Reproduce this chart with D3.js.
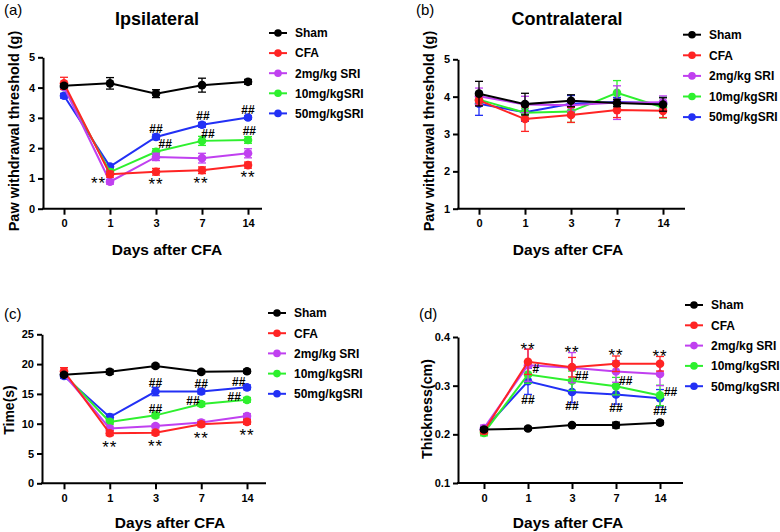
<!DOCTYPE html>
<html><head><meta charset="utf-8">
<script src="https://cdn.jsdelivr.net/npm/d3@7"></script>
<style>
html,body{margin:0;padding:0;background:#fff;}
svg text{font-family:Arial,"Liberation Sans",Helvetica,sans-serif;}
</style></head>
<body>
<svg id="chart" width="780" height="532"></svg>
<script>
// ---------- data ----------
const days = ["0", "1", "3", "7", "14"];
const groups = ["Sham", "CFA", "2mg/kg SRI", "10mg/kgSRI", "50mg/kgSRI"];
const groupColors = ["#000000", "#ff2424", "#c040f0", "#2ef02e", "#2230f5"];

// (a) Ipsilateral paw withdrawal threshold (g)
const ipsiMeans = [
  [4.06, 4.14, 3.80, 4.08, 4.19],
  [4.14, 1.14, 1.22, 1.27, 1.44],
  [4.02, 0.89, 1.71, 1.67, 1.83],
  [4.02, 1.21, 1.88, 2.24, 2.27],
  [3.73, 1.39, 2.37, 2.77, 3.01]
];
const ipsiErrs = [
  [0.06, 0.19, 0.13, 0.23, 0.08],
  [0.20, 0.10, 0.11, 0.11, 0.10],
  [0.08, 0.08, 0.12, 0.16, 0.15],
  [0.06, 0.10, 0.10, 0.15, 0.11],
  [0.08, 0.07, 0.09, 0.08, 0.06]
];
const ipsiTicks = [0, 1, 2, 3, 4, 5];
// annotations: [x position in day-index units, y value, text]
const ipsiMarks = [
  [0.75, 0.98, "**"], [2, 0.95, "**"], [2.98, 0.97, "**"], [4, 1.17, "**"],
  [2, 2.66, "##"], [3.02, 3.09, "##"], [4, 3.26, "##"],
  [2.2, 2.15, "##"], [3.13, 2.48, "##"], [4.03, 2.58, "##"]
];

// (b) Contralateral paw withdrawal threshold (g)
const contraMeans = [
  [4.08, 3.80, 3.89, 3.83, 3.79],
  [3.90, 3.40, 3.51, 3.64, 3.62],
  [4.01, 3.79, 3.77, 3.84, 3.85],
  [3.92, 3.57, 3.60, 4.10, 3.71],
  [3.81, 3.58, 3.81, 3.86, 3.82]
];
const contraErrs = [
  [0.33, 0.29, 0.16, 0.10, 0.18],
  [0.13, 0.33, 0.20, 0.20, 0.18],
  [0.22, 0.22, 0.16, 0.45, 0.17],
  [0.12, 0.12, 0.29, 0.33, 0.28],
  [0.31, 0.24, 0.22, 0.12, 0.16]
];
const contraTicks = [1, 2, 3, 4, 5];

// (c) Time (s)
const timeMeans = [
  [18.2, 18.7, 19.7, 18.7, 18.8],
  [18.8, 8.4, 8.5, 9.9, 10.3],
  [18.3, 9.2, 9.6, 10.2, 11.3],
  [18.3, 10.3, 11.4, 13.3, 14.0],
  [18.0, 11.1, 15.4, 15.4, 16.1]
];
const timeErrs = [
  [0.3, 0.4, 0.3, 0.3, 0.3],
  [0.6, 0.4, 0.4, 0.4, 0.4],
  [0.4, 0.4, 0.3, 0.4, 0.4],
  [0.3, 0.4, 0.4, 0.4, 0.4],
  [0.4, 0.5, 0.7, 0.4, 0.4]
];
const timeTicks = [0, 5, 10, 15, 20, 25];
const timeMarks = [
  [1, 6.8, "**"], [2, 6.9, "**"], [3, 8.3, "**"], [4, 8.8, "**"],
  [2, 16.9, "##"], [3, 16.7, "##"], [3.82, 17.1, "##"],
  [2, 12.6, "##"], [2.82, 13.9, "##"], [3.72, 14.6, "##"]
];

// (d) Thickness (cm)
const thickMeans = [
  [0.210, 0.212, 0.219, 0.219, 0.224],
  [0.207, 0.349, 0.338, 0.345, 0.345],
  [0.213, 0.342, 0.337, 0.329, 0.324],
  [0.203, 0.323, 0.310, 0.299, 0.280],
  [0.210, 0.309, 0.287, 0.282, 0.274]
];
const thickErrs = [
  [0.004, 0.003, 0.003, 0.006, 0.004],
  [0.006, 0.026, 0.020, 0.016, 0.015],
  [0.006, 0.033, 0.031, 0.022, 0.024],
  [0.006, 0.018, 0.020, 0.018, 0.021],
  [0.006, 0.027, 0.022, 0.020, 0.018]
];
const thickTicks = [0.1, 0.2, 0.3, 0.4];
const thickMarks = [
  [1, 0.384, "**"], [2, 0.377, "**"], [3, 0.371, "**"], [4, 0.369, "**"],
  [1.18, 0.335, "#"], [1, 0.272, "##"],
  [2.22, 0.320, "##"], [2, 0.260, "##"],
  [3.22, 0.311, "##"], [3, 0.255, "##"],
  [4.24, 0.289, "##"], [4, 0.250, "##"]
];

// ---------- drawing ----------
const svg = d3.select("#chart");
const FONT = 'Arial,"Liberation Sans",Helvetica,sans-serif';

function panel(cfg) {
  const g = svg.append("g");
  const x = d3.scaleLinear().domain([0, days.length - 1]).range([cfg.tick0, cfg.tick4]);
  const y = d3.scaleLinear().domain(cfg.domain).range([cfg.yBot, cfg.yTop]);

  // y axis
  const yAxis = d3.axisLeft(y).tickValues(cfg.ticks).tickSize(5).tickSizeOuter(0)
    .tickFormat(cfg.fmt || d3.format("d"));
  const ya = g.append("g").attr("transform", `translate(${cfg.left},0)`).call(yAxis);
  ya.select(".domain").attr("stroke", "#000").attr("stroke-width", 2);
  ya.selectAll(".tick line").attr("stroke", "#000").attr("stroke-width", 2);
  ya.selectAll(".tick text").attr("font-size", 11).attr("font-weight", "bold")
    .attr("font-family", FONT).attr("fill", "#000").attr("x", -8);

  // x axis
  const xAxis = d3.axisBottom(x).tickValues(d3.range(days.length)).tickSize(6).tickSizeOuter(0)
    .tickFormat(i => days[i]);
  const xa = g.append("g").attr("transform", `translate(0,${cfg.yBot})`).call(xAxis);
  xa.select(".domain").remove();
  xa.append("line").attr("x1", cfg.left - 1).attr("x2", cfg.right).attr("y1", 0).attr("y2", 0)
    .attr("stroke", "#000").attr("stroke-width", 2);
  xa.selectAll(".tick line").attr("stroke", "#000").attr("stroke-width", 2);
  xa.selectAll(".tick text").attr("font-size", 11).attr("font-weight", "bold")
    .attr("font-family", FONT).attr("fill", "#000").attr("y", 11);

  // series (draw last group first so Sham sits on top)
  const order = d3.range(groups.length).reverse();
  order.forEach(gi => {
    const col = groupColors[gi];
    const means = cfg.means[gi], errs = cfg.errs[gi];
    const sg = g.append("g");
    // error bars
    means.forEach((m, i) => {
      const e = errs[i];
      const cx = x(i);
      sg.append("line").attr("x1", cx).attr("x2", cx).attr("y1", y(m - e)).attr("y2", y(m + e))
        .attr("stroke", col).attr("stroke-width", 1.3);
      [m - e, m + e].forEach(v => {
        sg.append("line").attr("x1", cx - 4).attr("x2", cx + 4).attr("y1", y(v)).attr("y2", y(v))
          .attr("stroke", col).attr("stroke-width", 1.3);
      });
    });
    const line = d3.line().x((d, i) => x(i)).y(d => y(d));
    sg.append("path").datum(means).attr("d", line).attr("fill", "none")
      .attr("stroke", col).attr("stroke-width", 2);
    sg.selectAll("circle").data(means).join("circle")
      .attr("cx", (d, i) => x(i)).attr("cy", d => y(d)).attr("r", 4.3).attr("fill", col);
  });

  // annotations
  (cfg.marks || []).forEach(([xi, v, t]) => {
    const star = t.startsWith("*");
    g.append("text").attr("x", x(xi)).attr("y", y(v) + (star ? 10 : 4.5))
      .attr("text-anchor", "middle").attr("font-family", FONT)
      .attr("font-size", star ? 17 : 12).attr("font-weight", star ? "normal" : "bold")
      .attr("letter-spacing", star ? 1 : 0)
      .attr("fill", "#000").text(t);
  });

  // titles and labels
  if (cfg.title) {
    g.append("text").attr("x", cfg.titleX).attr("y", 25).attr("text-anchor", "middle")
      .attr("font-size", 18).attr("font-weight", "bold").attr("font-family", FONT).text(cfg.title);
  }
  g.append("text").attr("x", cfg.tagX).attr("y", cfg.tagY).attr("font-size", 15)
    .attr("font-family", FONT).text(cfg.tag);
  g.append("text").attr("x", cfg.xlabX).attr("y", cfg.xlabY).attr("text-anchor", "middle")
    .attr("font-size", 15.5).attr("font-weight", "bold").attr("font-family", FONT).text("Days after CFA");
  g.append("text").attr("transform", `translate(${cfg.ylabX},${cfg.ylabY}) rotate(-90)`)
    .attr("text-anchor", "middle").attr("font-size", cfg.ylabSize || 14).attr("font-weight", "bold")
    .attr("font-family", FONT).text(cfg.ylab);

  // legend
  const lg = g.append("g");
  groups.forEach((name, i) => {
    const yy = cfg.legY + i * cfg.legStep;
    lg.append("line").attr("x1", cfg.legX).attr("x2", cfg.legX + 18).attr("y1", yy).attr("y2", yy)
      .attr("stroke", groupColors[i]).attr("stroke-width", 2);
    lg.append("circle").attr("cx", cfg.legX + 9).attr("cy", yy).attr("r", 3.8).attr("fill", groupColors[i]);
    lg.append("text").attr("x", cfg.legX + 26).attr("y", yy + 4.3).attr("font-size", 12)
      .attr("font-weight", "bold").attr("font-family", FONT).text(name);
  });
}

panel({
  means: ipsiMeans, errs: ipsiErrs, ticks: ipsiTicks, marks: ipsiMarks, domain: [0, 5],
  left: 43, right: 262, tick0: 64, tick4: 248, yTop: 57.3, yBot: 208.7,
  title: "Ipsilateral", titleX: 157, tag: "(a)", tagX: 4, tagY: 15,
  xlabX: 167, xlabY: 255, ylab: "Paw withdrawal threshold (g)", ylabX: 19, ylabY: 131, ylabSize: 14.5,
  legX: 269, legY: 33, legStep: 20.1
});
panel({
  means: contraMeans, errs: contraErrs, ticks: contraTicks, marks: [], domain: [1, 5],
  left: 458, right: 685, tick0: 479, tick4: 663, yTop: 59.3, yBot: 208.7,
  title: "Contralateral", titleX: 567, tag: "(b)", tagX: 416, tagY: 15,
  xlabX: 568, xlabY: 255, ylab: "Paw withdrawal threshold (g)", ylabX: 434, ylabY: 131, ylabSize: 14.5,
  legX: 683, legY: 34.7, legStep: 20.6
});
panel({
  means: timeMeans, errs: timeErrs, ticks: timeTicks, marks: timeMarks, domain: [0, 25],
  left: 42, right: 266, tick0: 64, tick4: 247, yTop: 334.3, yBot: 483.3,
  title: null, tag: "(c)", tagX: 4, tagY: 319,
  xlabX: 170, xlabY: 528, ylab: "Time(s)", ylabX: 14, ylabY: 410, ylabSize: 14,
  legX: 268, legY: 313, legStep: 20.2
});
panel({
  means: thickMeans, errs: thickErrs, ticks: thickTicks, marks: thickMarks, domain: [0.1, 0.4],
  fmt: d3.format(".1f"),
  left: 458, right: 683, tick0: 484, tick4: 660, yTop: 337, yBot: 483,
  title: null, tag: "(d)", tagX: 419, tagY: 319,
  xlabX: 568, xlabY: 528, ylab: "Thickness(cm)", ylabX: 432, ylabY: 409, ylabSize: 14.3,
  legX: 685, legY: 305, legStep: 20.3
});
</script>
</body></html>
